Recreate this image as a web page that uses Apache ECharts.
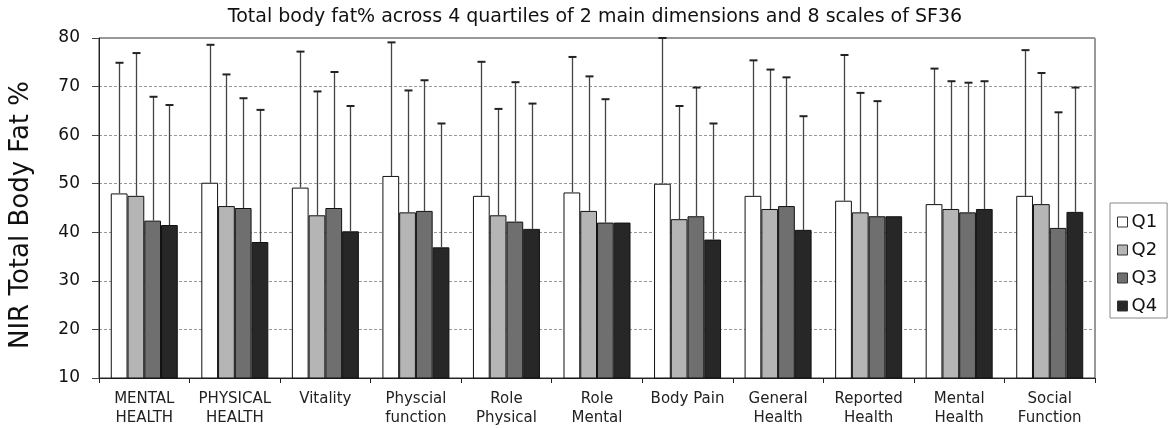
<!DOCTYPE html>
<html>
<head>
<meta charset="utf-8">
<script src="https://cdn.jsdelivr.net/npm/echarts@6/dist/echarts.min.js"></script>
<style>
html,body{margin:0;padding:0;background:#fff;}
#c{width:1169px;height:428px;}
</style>
</head>
<body>
<div id="c"></div>
<script>
const categories = ['MENTAL\nHEALTH','PHYSICAL\nHEALTH','Vitality','Physcial\nfunction','Role\nPhysical','Role\nMental','Body Pain','General\nHealth','Reported\nHealth','Mental\nHealth','Social\nFunction'];
const seriesNames = ['Q1','Q2','Q3','Q4'];
const q1Mean = [48.0, 50.2, 49.2, 51.6, 47.5, 48.2, 50.0, 47.5, 46.5, 45.8, 47.5];
const q2Mean = [47.5, 45.4, 43.5, 44.1, 43.5, 44.4, 42.7, 44.8, 44.1, 44.8, 45.8];
const q3Mean = [42.4, 45.0, 45.0, 44.4, 42.2, 42.0, 43.3, 45.4, 43.3, 44.1, 40.9];
const q4Mean = [41.5, 38.0, 40.2, 36.9, 40.7, 42.0, 38.5, 40.5, 43.3, 44.8, 44.2];
const q1Upper = [74.9, 78.6, 77.2, 79.1, 75.1, 76.1, 80.0, 75.4, 76.5, 73.7, 77.5];
const q2Upper = [76.9, 72.5, 69.0, 69.2, 65.4, 72.1, 66.0, 73.5, 68.7, 71.1, 72.8];
const q3Upper = [67.9, 67.6, 73.0, 71.3, 70.9, 67.4, 69.8, 71.9, 67.0, 70.8, 64.7];
const q4Upper = [66.2, 65.2, 66.0, 62.4, 66.5, null, 62.4, 63.9, null, 71.1, 69.8];
const yTicks = [10, 20, 30, 40, 50, 60, 70, 80];
const colors = ['#ffffff', '#b5b5b5', '#6f6f6f', '#272727'];

const means = [q1Mean, q2Mean, q3Mean, q4Mean];
const uppers = [q1Upper, q2Upper, q3Upper, q4Upper];
const CATGAP = 0.26;
const FONT = 'DejaVu Sans';

const chart = echarts.init(document.getElementById('c'), null, {renderer: 'canvas'});
const series = [];
means.forEach((m, i) => {
  series.push({
    name: seriesNames[i],
    type: 'bar',
    data: m,
    barGap: '0%',
    barCategoryGap: (CATGAP * 100) + '%',
    itemStyle: {color: colors[i], borderColor: '#111', borderWidth: 1},
    z: 2
  });
});
means.forEach((m, i) => {
  const data = [];
  m.forEach((v, k) => { if (uppers[i][k] != null) data.push([k, v, uppers[i][k]]); });
  series.push({
    type: 'custom',
    silent: true,
    z: 5,
    data: data,
    renderItem: function (params, api) {
      const bw = api.size([1, 0])[0];
      const barW = bw * (1 - CATGAP) / 4;
      const off = (i - 1.5) * barW;
      const p0 = api.coord([api.value(0), api.value(1)]);
      const p1 = api.coord([api.value(0), api.value(2)]);
      const x = Math.round(p0[0] + off) + 0.5;
      return {
        type: 'group',
        children: [
          {type: 'line', shape: {x1: x, y1: p0[1], x2: x, y2: p1[1]}, style: {stroke: '#444', lineWidth: 1.3}},
          {type: 'line', shape: {x1: x - 4, y1: p1[1], x2: x + 4, y2: p1[1]}, style: {stroke: '#222', lineWidth: 2}}
        ]
      };
    }
  });
});

chart.setOption({
  animation: false,
  backgroundColor: '#fff',
  textStyle: {fontFamily: FONT},
  title: {
    text: 'Total body fat% across 4 quartiles of 2 main dimensions and 8 scales of SF36',
    left: 590,
    textAlign: 'center',
    top: 3,
    textStyle: {fontSize: 19, fontWeight: 'normal', color: '#111', fontFamily: FONT}
  },
  graphic: [{
    type: 'text',
    x: 21,
    y: 215,
    rotation: Math.PI / 2,
    style: {
      text: 'NIR Total Body Fat %',
      fontSize: 26,
      fontFamily: FONT,
      fill: '#111',
      align: 'center',
      verticalAlign: 'middle'
    }
  }],
  legend: {
    data: seriesNames,
    orient: 'vertical',
    left: 1110,
    top: 203,
    icon: 'rect',
    itemWidth: 10,
    itemHeight: 10,
    itemGap: 10,
    padding: [10, 10, 3, 7],
    borderColor: '#888',
    borderWidth: 1,
    itemStyle: {borderColor: '#333', borderWidth: 1},
    textStyle: {fontSize: 18, color: '#111', fontFamily: FONT, padding: [0, 0, 0, -1]}
  },
  grid: {
    left: 99, right: 74, top: 38, bottom: 49,
    show: true, borderColor: '#333', borderWidth: 1
  },
  xAxis: {
    type: 'category',
    data: categories,
    axisLine: {lineStyle: {color: '#222', width: 1}},
    axisTick: {show: true, length: 5, lineStyle: {color: '#222'}},
    axisLabel: {fontSize: 15, color: '#222', margin: 12, lineHeight: 19, interval: 0, fontFamily: FONT}
  },
  yAxis: {
    type: 'value',
    min: yTicks[0],
    max: yTicks[yTicks.length - 1],
    interval: 10,
    axisLine: {show: true, lineStyle: {color: '#222', width: 1}},
    axisTick: {show: true, length: 7, lineStyle: {color: '#444'}},
    axisLabel: {fontSize: 17, color: '#111', margin: 19, fontFamily: FONT},
    splitLine: {show: true, lineStyle: {color: '#999', type: [3, 2], width: 1}}
  },
  series: series
});
</script>
</body>
</html>
